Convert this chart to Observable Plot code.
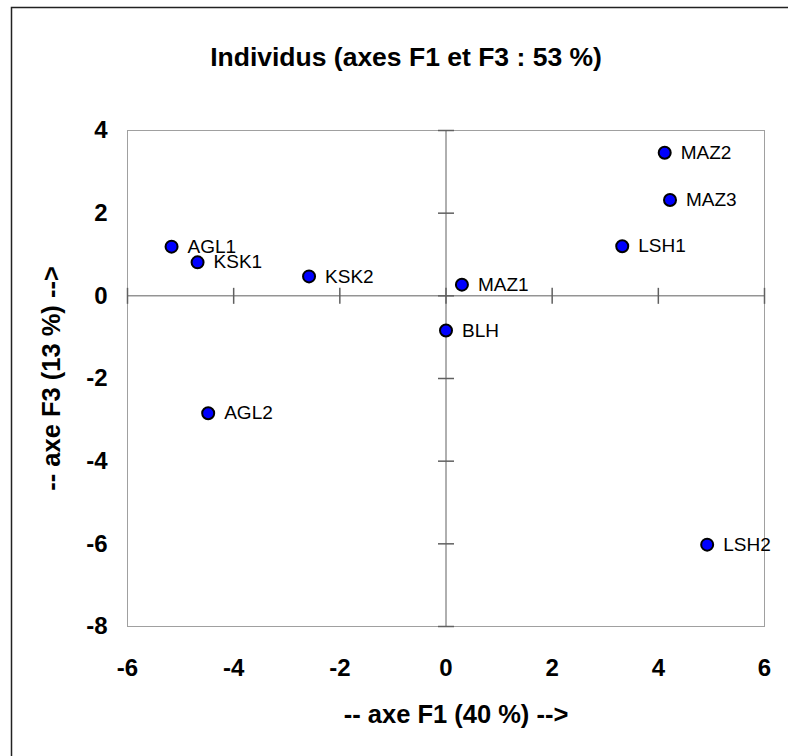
<!DOCTYPE html>
<html><head><meta charset="utf-8">
<script src="https://cdn.jsdelivr.net/npm/d3@7"></script>
<script src="https://cdn.jsdelivr.net/npm/@observablehq/plot@0.6"></script>
<style>
html,body{margin:0;padding:0;background:#fff;overflow:hidden;}
#chart svg{display:block;}
</style></head><body><div id="chart"></div>
<script>
const names = ["AGL1","KSK1","KSK2","MAZ1","BLH","AGL2","MAZ2","MAZ3","LSH1","LSH2"];
const f1 = [-5.17,-4.68,-2.58,0.30,0.00,-4.48,4.12,4.22,3.32,4.92];
const f3 = [1.19,0.81,0.47,0.27,-0.84,-2.84,3.46,2.32,1.20,-6.02];
const xTicks = [-6,-4,-2,0,2,4,6];
const yTicks = [-8,-6,-4,-2,0,2,4];
const title = "Individus (axes F1 et F3 : 53 %)";
const xTitle = "-- axe F1 (40 %) -->";
const yTitle = "-- axe F3 (13 %) -->";

const data = names.map((n, i) => ({name: n, x: f1[i], y: f3[i]}));
const vTick = {draw(ctx) { ctx.moveTo(0, -8); ctx.lineTo(0, 8); }};
const hTick = {draw(ctx) { ctx.moveTo(-8, 0); ctx.lineTo(8, 0); }};
const font = '"Liberation Sans", Arial, sans-serif';

const chart = Plot.plot({
  width: 788, height: 756,
  marginLeft: 127, marginRight: 24, marginTop: 130, marginBottom: 130,
  style: {fontFamily: font, background: "white", color: "black"},
  x: {domain: [-6, 6]},
  y: {domain: [-8, 4]},
  marks: [
    Plot.frame({stroke: "#222", strokeWidth: 1.5, insetTop: -123, insetLeft: -116, insetRight: -100, insetBottom: -200}),
    Plot.frame({stroke: "#a0a0a0"}),
    Plot.ruleX([0], {stroke: "#606060"}),
    Plot.ruleY([0], {stroke: "#606060"}),
    Plot.dot(xTicks, {x: d => d, y: () => 0, symbol: vTick, stroke: "#606060", fill: "none"}),
    Plot.dot(yTicks, {x: () => 0, y: d => d, symbol: hTick, stroke: "#606060", fill: "none"}),
    Plot.axisX({ticks: xTicks, tickSize: 0, tickPadding: 32, fontSize: 24, fontWeight: "bold", tickFormat: d => String(d), label: null}),
    Plot.axisY({ticks: yTicks, tickSize: 0, tickPadding: 20, fontSize: 24, fontWeight: "bold", tickFormat: d => String(d), label: null}),
    Plot.dot(data, {x: "x", y: "y", r: 6, fill: "#0000ff", stroke: "black", strokeWidth: 2}),
    Plot.text(data, {x: "x", y: "y", text: "name", textAnchor: "start", dx: 16, fontSize: 19, fill: "black"}),
    Plot.text([title], {text: d => d, frameAnchor: "top", textAnchor: "middle", dy: -83, dx: -40, fontSize: 26.5, fontWeight: "bold"}),
    Plot.text([xTitle], {text: d => d, frameAnchor: "bottom", textAnchor: "middle", dy: 96, dx: 10, fontSize: 25.5, fontWeight: "bold"}),
    Plot.text([yTitle], {text: d => d, frameAnchor: "left", textAnchor: "middle", dx: -76, rotate: -90, fontSize: 25.5, fontWeight: "bold"})
  ]
});
document.getElementById("chart").appendChild(chart);
</script></body></html>
